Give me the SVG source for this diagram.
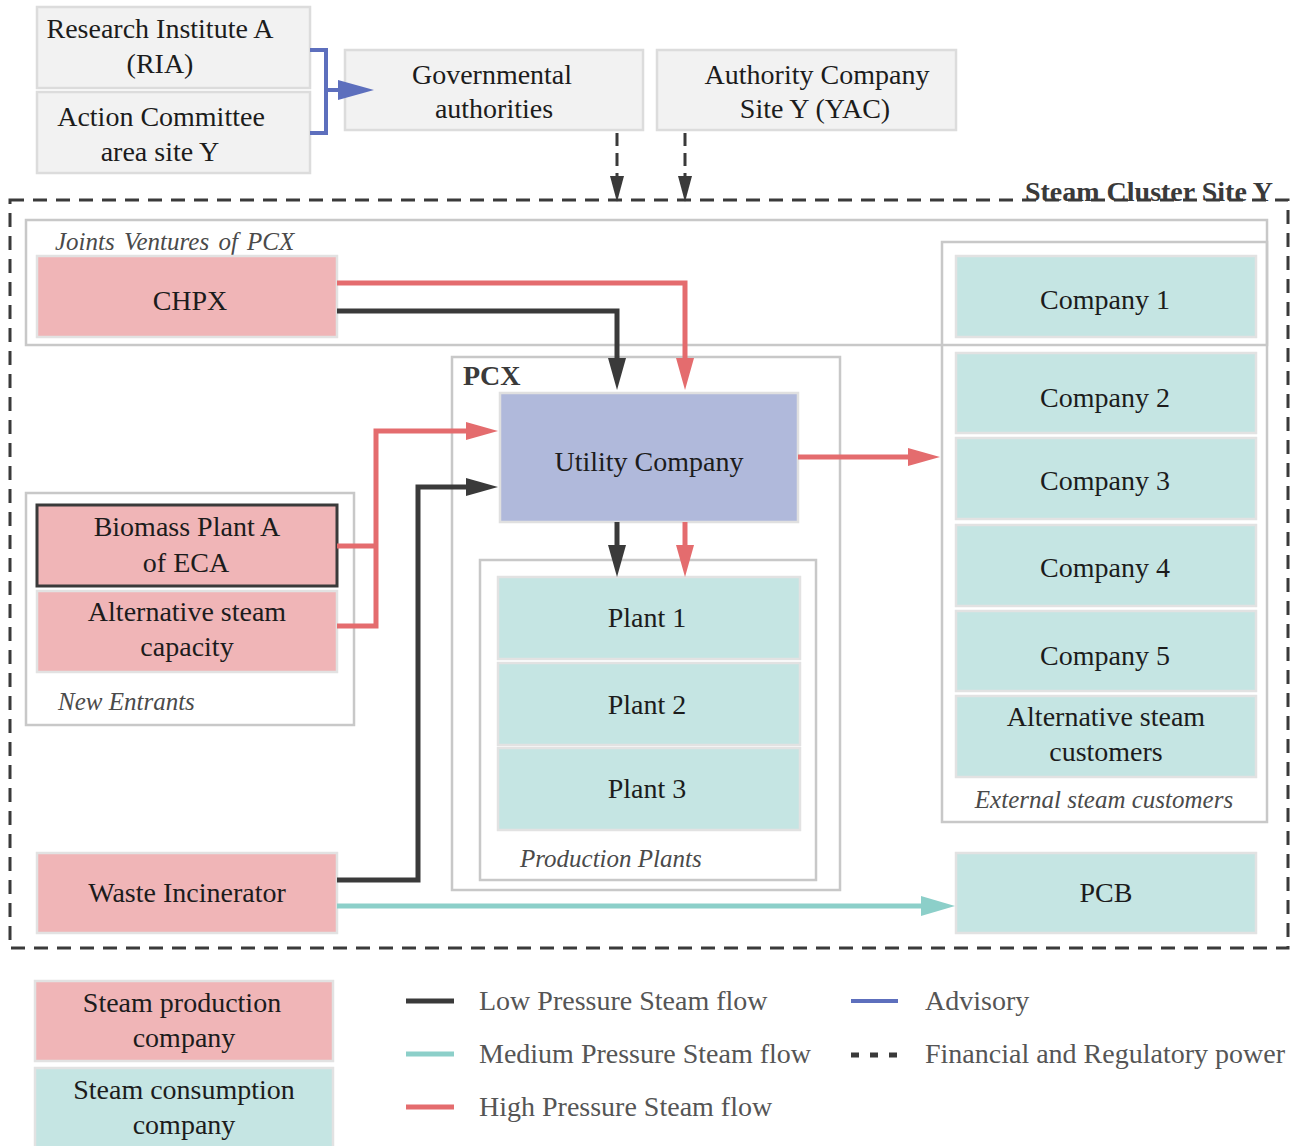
<svg xmlns="http://www.w3.org/2000/svg" width="1293" height="1146" viewBox="0 0 1293 1146">
  <defs>
    <style>
      text{font-family:"Liberation Serif","Times New Roman",serif;font-size:28px;fill:#1c1c1c}
      .c{text-anchor:middle}
      .grp{font-style:italic;font-size:25px;fill:#4a4a4a}
      .lg{fill:#555}
      .ttl{font-weight:bold;fill:#3a3a3a}
      .box-g{fill:#f2f2f2;stroke:#dcdcdc;stroke-width:2.5}
      .box-p{fill:#f0b5b7;stroke:#e2e2e2;stroke-width:2.5}
      .box-t{fill:#c5e5e3;stroke:#e2e2e2;stroke-width:2.5}
      .box-u{fill:#b0b9db;stroke:#e0e0e0;stroke-width:2.5}
      .frame{fill:none;stroke:#c8c8c8;stroke-width:2.5}
      .lp{fill:none;stroke:#3a3a3a;stroke-width:5}
      .hp{fill:none;stroke:#e46c6e;stroke-width:5}
      .mp{fill:none;stroke:#8ccfc9;stroke-width:5}
      .adv{fill:none;stroke:#5d6fbd;stroke-width:4}
      .reg{fill:none;stroke:#3a3a3a;stroke-width:3;stroke-dasharray:13 7}
    </style>
    <marker id="ah-lp" markerUnits="userSpaceOnUse" markerWidth="32" markerHeight="18" refX="12" refY="9" orient="auto">
      <path d="M0,0 L32,9 L0,18 z" fill="#3a3a3a"/>
    </marker>
    <marker id="ah-hp" markerUnits="userSpaceOnUse" markerWidth="32" markerHeight="18" refX="12" refY="9" orient="auto">
      <path d="M0,0 L32,9 L0,18 z" fill="#e46c6e"/>
    </marker>
    <marker id="ah-mp" markerUnits="userSpaceOnUse" markerWidth="34" markerHeight="20" refX="14" refY="10" orient="auto">
      <path d="M0,0 L34,10 L0,20 z" fill="#8ccfc9"/>
    </marker>
    <marker id="ah-adv" markerUnits="userSpaceOnUse" markerWidth="36" markerHeight="20" refX="16" refY="10" orient="auto">
      <path d="M0,0 L36,10 L0,20 z" fill="#5d6fbd"/>
    </marker>
    <marker id="ah-reg" markerUnits="userSpaceOnUse" markerWidth="26" markerHeight="14" refX="12" refY="7" orient="auto">
      <path d="M0,0 L26,7 L0,14 z" fill="#3a3a3a"/>
    </marker>
  </defs>

  <rect width="1293" height="1146" fill="#ffffff"/>

  <!-- cluster boundary and grouping frames -->
  <g id="frames">
    <rect x="10" y="200" width="1278" height="748" fill="none" stroke="#3a3a3a" stroke-width="3" stroke-dasharray="14 9"/>
    <rect class="frame" x="26" y="220" width="1241" height="125"/>
    <rect class="frame" x="942" y="242" width="325" height="580"/>
    <rect class="frame" x="452" y="357" width="388" height="533"/>
    <rect class="frame" x="480" y="560" width="336" height="320"/>
    <rect class="frame" x="26" y="493" width="328" height="232"/>
    <text class="ttl" x="1273" y="201" text-anchor="end">Steam Cluster Site Y</text>
    <text class="grp" x="55" y="250" font-size="27" word-spacing="3">Joints Ventures of PCX</text>
    <text class="ttl" x="463" y="385">PCX</text>
    <text class="grp" x="520" y="867" font-size="24">Production Plants</text>
    <text class="grp" x="58" y="710">New Entrants</text>
    <text class="grp c" x="1104" y="808">External steam customers</text>
  </g>

  <!-- stakeholders outside the cluster -->
  <g id="ria">
    <rect class="box-g" x="37" y="7" width="273" height="81"/>
    <text class="c" x="160" y="38">Research Institute A</text>
    <text class="c" x="160" y="73">(RIA)</text>
  </g>
  <g id="action-committee">
    <rect class="box-g" x="37" y="92" width="273" height="81"/>
    <text class="c" x="161" y="126">Action Committee</text>
    <text class="c" x="160" y="161">area site Y</text>
  </g>
  <g id="gov">
    <rect class="box-g" x="345" y="50" width="298" height="80"/>
    <text class="c" x="492" y="84">Governmental</text>
    <text class="c" x="494" y="118">authorities</text>
  </g>
  <g id="yac">
    <rect class="box-g" x="657" y="50" width="299" height="80"/>
    <text class="c" x="817" y="84">Authority Company</text>
    <text class="c" x="815" y="118">Site Y (YAC)</text>
  </g>

  <!-- producers -->
  <g id="chpx">
    <rect class="box-p" x="37" y="256" width="300" height="81"/>
    <text class="c" x="190" y="310">CHPX</text>
  </g>
  <g id="biomass">
    <rect x="37" y="505" width="300" height="81" fill="#f0b5b7" stroke="#3a3a3a" stroke-width="3"/>
    <text class="c" x="187" y="536">Biomass Plant A</text>
    <text class="c" x="186" y="572">of ECA</text>
  </g>
  <g id="alt-capacity">
    <rect class="box-p" x="37" y="591" width="300" height="81"/>
    <text class="c" x="187" y="621">Alternative steam</text>
    <text class="c" x="187" y="656">capacity</text>
  </g>
  <g id="waste">
    <rect class="box-p" x="37" y="853" width="300" height="80"/>
    <text class="c" x="187" y="902">Waste Incinerator</text>
  </g>

  <!-- PCX -->
  <g id="utility">
    <rect class="box-u" x="500" y="393" width="298" height="129"/>
    <text class="c" x="649" y="471">Utility Company</text>
  </g>
  <g id="plant1">
    <rect class="box-t" x="498" y="577" width="302" height="82"/>
    <text class="c" x="647" y="627">Plant 1</text>
  </g>
  <g id="plant2">
    <rect class="box-t" x="498" y="663" width="302" height="82"/>
    <text class="c" x="647" y="714">Plant 2</text>
  </g>
  <g id="plant3">
    <rect class="box-t" x="498" y="748" width="302" height="82"/>
    <text class="c" x="647" y="798">Plant 3</text>
  </g>

  <!-- external customers -->
  <g id="company1">
    <rect class="box-t" x="956" y="256" width="300" height="81"/>
    <text class="c" x="1105" y="309">Company 1</text>
  </g>
  <g id="company2">
    <rect class="box-t" x="956" y="353" width="300" height="80"/>
    <text class="c" x="1105" y="407">Company 2</text>
  </g>
  <g id="company3">
    <rect class="box-t" x="956" y="438" width="300" height="81"/>
    <text class="c" x="1105" y="490">Company 3</text>
  </g>
  <g id="company4">
    <rect class="box-t" x="956" y="525" width="300" height="81"/>
    <text class="c" x="1105" y="577">Company 4</text>
  </g>
  <g id="company5">
    <rect class="box-t" x="956" y="611" width="300" height="80"/>
    <text class="c" x="1105" y="665">Company 5</text>
  </g>
  <g id="alt-customers">
    <rect class="box-t" x="956" y="696" width="300" height="81"/>
    <text class="c" x="1106" y="726">Alternative steam</text>
    <text class="c" x="1106" y="761">customers</text>
  </g>
  <g id="pcb">
    <rect class="box-t" x="956" y="853" width="300" height="80"/>
    <text class="c" x="1106" y="902">PCB</text>
  </g>

  <!-- flows -->
  <g id="connectors">
    <path class="adv" d="M310,50 H326 V133 H310"/>
    <path class="adv" d="M326,90 H354" marker-end="url(#ah-adv)"/>
    <path class="reg" d="M617,133 V188" marker-end="url(#ah-reg)"/>
    <path class="reg" d="M685,133 V188" marker-end="url(#ah-reg)"/>
    <path class="hp" d="M337,283 H685 V370" marker-end="url(#ah-hp)"/>
    <path class="lp" d="M337,311 H617 V370" marker-end="url(#ah-lp)"/>
    <path class="hp" d="M337,546 H376"/>
    <path class="hp" d="M337,626 H376 V431 H478" marker-end="url(#ah-hp)"/>
    <path class="lp" d="M337,880 H418 V487 H478" marker-end="url(#ah-lp)"/>
    <path class="mp" d="M337,906 H935" marker-end="url(#ah-mp)"/>
    <path class="hp" d="M798,457 H920" marker-end="url(#ah-hp)"/>
    <path class="lp" d="M617,522 V557" marker-end="url(#ah-lp)"/>
    <path class="hp" d="M685,522 V557" marker-end="url(#ah-hp)"/>
  </g>

  <!-- legend -->
  <g id="legend">
    <rect class="box-p" x="35" y="981" width="298" height="80"/>
    <text class="c" x="182" y="1012">Steam production</text>
    <text class="c" x="184" y="1047">company</text>
    <rect class="box-t" x="35" y="1068" width="298" height="80"/>
    <text class="c" x="184" y="1099">Steam consumption</text>
    <text class="c" x="184" y="1134">company</text>

    <path class="lp" d="M406,1001 H454"/>
    <text class="lg" x="479" y="1010">Low Pressure Steam flow</text>
    <path class="mp" d="M406,1054 H454"/>
    <text class="lg" x="479" y="1063">Medium Pressure Steam flow</text>
    <path class="hp" d="M406,1107 H454"/>
    <text class="lg" x="479" y="1116">High Pressure Steam flow</text>
    <path class="adv" d="M851,1001 H898" stroke-width="5"/>
    <text class="lg" x="925" y="1010">Advisory</text>
    <path d="M851,1055 H898" fill="none" stroke="#3a3a3a" stroke-width="5" stroke-dasharray="8 11"/>
    <text class="lg" x="925" y="1063">Financial and Regulatory power</text>
  </g>
</svg>
